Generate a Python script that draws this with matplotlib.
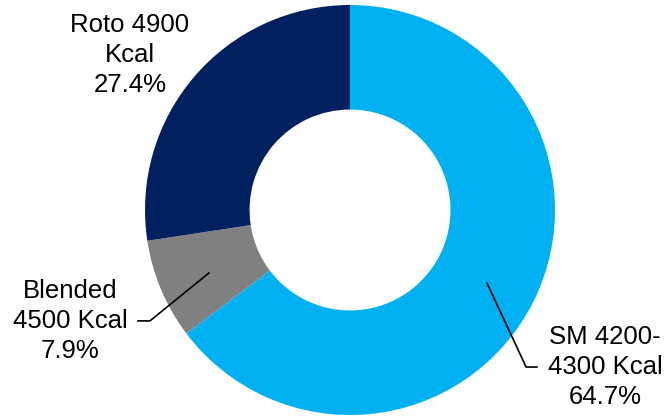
import matplotlib.pyplot as plt

labels = ['SM 4200-\n4300 Kcal', 'Blended\n4500 Kcal', 'Roto 4900\nKcal']
shares = [64.7, 7.9, 27.4]
colors = ['#00B0F0', '#808080', '#002060']

plt.rcParams['font.family'] = ['Liberation Sans', 'DejaVu Sans']

fig = plt.figure(figsize=(6.67, 4.16), dpi=100)
# donut centred at about (350, 210) px with radius ~205 px
ax = fig.add_axes([145 / 667, 1 / 416, 410 / 667, 410 / 416])

ax.pie(shares, colors=colors, startangle=90, counterclock=False,
       radius=1, wedgeprops=dict(width=0.51, linewidth=0))
ax.set_xlim(-1, 1)
ax.set_ylim(-1, 1)
ax.set_aspect('equal')

# label positions and leader lines (data coords)
text_pos = [(1.244, -0.766), (-1.366, -0.541), (-1.073, 0.756)]
leaders = [
    [(0.668, -0.356), (0.859, -0.766), (0.912, -0.766)],
    [(-0.688, -0.307), (-0.976, -0.541), (-1.034, -0.541)],
    None,
]

for lab, val, pos, ld in zip(labels, shares, text_pos, leaders):
    ax.text(pos[0], pos[1], f'{lab}\n{val:.1f}%', ha='center', va='center',
            fontsize=18.5, linespacing=1.3, clip_on=False)
    if ld:
        xs, ys = zip(*ld)
        ax.plot(xs, ys, color='black', lw=1.2, clip_on=False)

fig.savefig('out.png', dpi=100)
